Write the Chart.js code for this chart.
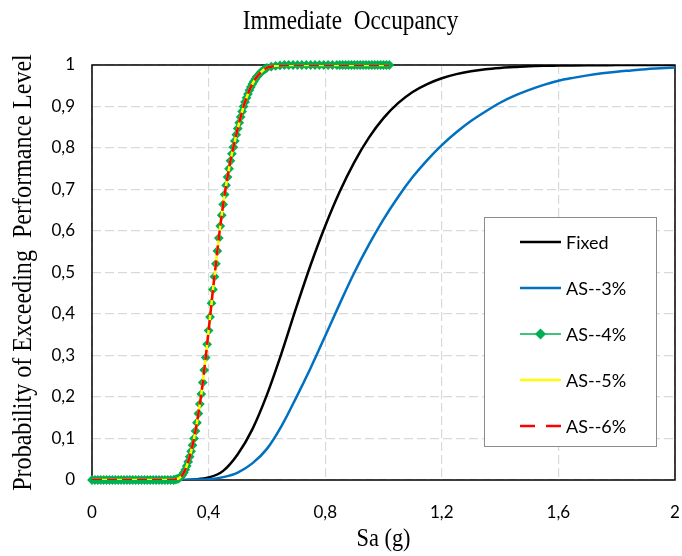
<!DOCTYPE html>
<html>
<head>
<meta charset="utf-8">
<script src="https://cdn.jsdelivr.net/npm/chart.js@4.4.1/dist/chart.umd.min.js"></script>
<style>
  html, body { margin: 0; padding: 0; background: #ffffff; }
  #wrap { width: 682px; height: 556px; }
</style>
</head>
<body>
<div id="wrap"><canvas id="chart" width="682" height="556"></canvas></div>
<script>
// Spectral acceleration grid (g) for the fixed-base and 3% curves
const saStd = [0,0.05,0.1,0.15,0.2,0.25,0.3,0.35,0.4,0.45,0.5,0.55,0.6,0.65,0.7,0.75,0.8,0.85,0.9,0.95,
  1,1.05,1.1,1.15,1.2,1.25,1.3,1.35,1.4,1.45,1.5,1.55,1.6,1.65,1.7,1.75,1.8,1.85,1.9,1.95,2];

const fixedProb = [0,0,0,0,0,0,0,0.0015,0.006,0.022,0.062,0.122,0.205,0.305,0.414,0.518,0.612,0.695,0.766,0.825,
  0.872,0.908,0.935,0.954,0.968,0.978,0.985,0.99,0.993,0.995,0.997,0.998,0.9985,0.999,0.9994,0.9996,0.9998,0.9999,1,1,1];

const as3Prob = [0,0,0,0,0,0,0,0.001,0.002,0.007,0.018,0.04,0.075,0.13,0.198,0.27,0.347,0.425,0.5,0.567,
  0.628,0.682,0.73,0.771,0.807,0.838,0.865,0.888,0.909,0.926,0.94,0.952,0.962,0.969,0.975,0.98,0.984,0.987,0.99,0.992,0.994];

// Sa grid (g) for the 4%, 5% and 6% curves
const saAS = [0,0.01,0.02,0.03,0.04,0.05,0.06,0.07,0.08,0.09,0.1,0.11,0.12,0.13,0.14,0.15,0.16,0.17,0.18,0.19,
  0.2,0.21,0.22,0.23,0.24,0.25,0.26,0.27,0.28,
  0.285,0.29,0.295,0.3,0.305,0.31,0.315,0.32,0.325,0.33,0.335,0.34,0.345,0.35,0.355,0.36,0.365,0.37,0.375,0.38,
  0.385,0.39,0.395,0.4,0.405,0.41,0.415,0.42,0.425,0.43,0.435,0.44,0.445,0.45,0.455,0.46,0.465,0.47,0.475,0.48,
  0.485,0.49,0.495,0.5,0.505,0.51,0.515,0.52,0.525,0.53,0.535,0.54,0.545,0.55,0.555,0.56,0.565,0.57,0.575,0.58,
  0.585,0.59,0.595,0.6,
  0.615,0.63,0.645,0.66,0.675,0.69,0.705,0.72,0.735,0.75,0.765,0.78,0.795,0.81,0.825,0.84,
  0.85,0.86,0.87,0.88,0.89,0.9,0.91,0.92,0.93,0.94,0.95,0.96,0.97,0.98,0.99,1,1.01,1.02];

const as4Prob = [0,0,0,0,0,0,0,0,0,0,0,0,0,0,0,0,0,0,0,0,0,0,0,0,0,0,0,0,0,
  0.001,0.002,0.003,0.005,0.008,0.012,0.018,0.025,0.034,0.044,0.056,0.069,0.084,0.1,0.118,0.138,0.16,0.183,0.207,0.235,
  0.265,0.295,0.327,0.36,0.393,0.426,0.459,0.49,0.521,0.552,0.583,0.612,0.638,0.664,0.688,0.71,0.73,0.75,0.769,0.786,
  0.802,0.817,0.832,0.847,0.861,0.875,0.888,0.9,0.911,0.921,0.93,0.939,0.947,0.954,0.96,0.966,0.971,0.975,0.979,0.983,
  0.986,0.989,0.991,0.993,
  0.996,0.998,0.999,1,1,1,1,1,1,1,1,1,1,1,1,1,
  1,1,1,1,1,1,1,1,1,1,1,1,1,1,1,1,1,1];

const as5Prob = [0,0,0,0,0,0,0,0,0,0,0,0,0,0,0,0,0,0,0,0,0,0,0,0,0,0,0,0,0,
  0.001,0.002,0.003,0.005,0.008,0.012,0.018,0.025,0.034,0.044,0.056,0.069,0.084,0.1,0.118,0.138,0.16,0.183,0.207,0.235,
  0.265,0.295,0.327,0.36,0.393,0.426,0.459,0.49,0.521,0.552,0.583,0.612,0.638,0.664,0.688,0.71,0.73,0.75,0.769,0.786,
  0.802,0.817,0.832,0.847,0.861,0.875,0.888,0.9,0.911,0.921,0.93,0.939,0.947,0.954,0.96,0.966,0.971,0.975,0.979,0.983,
  0.986,0.989,0.991,0.993,
  0.996,0.998,0.999,1,1,1,1,1,1,1,1,1,1,1,1,1,
  1,1,1,1,1,1,1,1,1,1,1,1,1,1,1,1,1,1];

const as6Prob = [0,0,0,0,0,0,0,0,0,0,0,0,0,0,0,0,0,0,0,0,0,0,0,0,0,0,0,0,0,
  0.001,0.002,0.003,0.005,0.008,0.012,0.018,0.025,0.034,0.044,0.056,0.069,0.084,0.1,0.118,0.138,0.16,0.183,0.207,0.235,
  0.265,0.295,0.327,0.36,0.393,0.426,0.459,0.49,0.521,0.552,0.583,0.612,0.638,0.664,0.688,0.71,0.73,0.75,0.769,0.786,
  0.802,0.817,0.832,0.847,0.861,0.875,0.888,0.9,0.911,0.921,0.93,0.939,0.947,0.954,0.96,0.966,0.971,0.975,0.979,0.983,
  0.986,0.989,0.991,0.993,
  0.996,0.998,0.999,1,1,1,1,1,1,1,1,1,1,1,1,1,
  1,1,1,1,1,1,1,1,1,1,1,1,1,1,1,1,1,1];

const saTicks = [0, 0.4, 0.8, 1.2, 1.6, 2];
const saTickLabels = ['0', '0,4', '0,8', '1,2', '1,6', '2'];
const probTicks = [0, 0.1, 0.2, 0.3, 0.4, 0.5, 0.6, 0.7, 0.8, 0.9, 1];
const probTickLabels = ['0', '0,1', '0,2', '0,3', '0,4', '0,5', '0,6', '0,7', '0,8', '0,9', '1'];

const seriesNames = ['Fixed', 'AS--3%', 'AS--4%', 'AS--5%', 'AS--6%'];
const chartTitle = 'Immediate  Occupancy';
const xTitle = 'Sa (g)';
const yTitle = 'Probability of Exceeding  Performance Level';

const pairs = (xs, ys) => xs.map((x, i) => ({ x: x, y: ys[i] }));

const tickFont = { family: 'Lato', size: 17 };
const serif = '"Liberation Serif"';

// Plot frame drawn below the curves
const framePlugin = {
  id: 'frame',
  beforeDatasetsDraw(chart) {
    const a = chart.chartArea, ctx = chart.ctx;
    ctx.save();
    ctx.strokeStyle = '#000000';
    ctx.lineWidth = 1.5;
    ctx.strokeRect(a.left, a.top, a.right - a.left, a.bottom - a.top);
    ctx.restore();
  }
};

// Narrow serif text for the heading and axis titles
function narrowText(ctx, text, x, y, size, squeeze, angle) {
  ctx.save();
  ctx.translate(x, y);
  ctx.rotate(angle);
  ctx.scale(squeeze, 1);
  ctx.fillStyle = '#000000';
  ctx.font = size + 'px ' + serif;
  ctx.textAlign = 'center';
  ctx.textBaseline = 'alphabetic';
  ctx.fillText(text, 0, 0);
  ctx.restore();
}

const titlesPlugin = {
  id: 'titles',
  afterDraw(chart) {
    const a = chart.chartArea, ctx = chart.ctx;
    narrowText(ctx, chartTitle, 350.5, 29, 28, 0.83, 0);
    narrowText(ctx, xTitle, (a.left + a.right) / 2, 546, 26, 0.86, 0);
    narrowText(ctx, yTitle, 31, (a.top + a.bottom) / 2, 28, 0.86, -Math.PI / 2);
  }
};

// Boxed legend inside the plot area
const boxLegendPlugin = {
  id: 'boxLegend',
  afterDraw(chart) {
    const a = chart.chartArea, ctx = chart.ctx;
    const bx = a.right - 191, by = a.top + 152, bw = 172, bh = 229;
    ctx.save();
    ctx.fillStyle = '#ffffff';
    ctx.fillRect(bx, by, bw, bh);
    ctx.strokeStyle = '#8c8c8c';
    ctx.lineWidth = 1;
    ctx.strokeRect(bx + 0.5, by + 0.5, bw, bh);
    const dsList = chart.data.datasets;
    const step = 46;
    dsList.forEach((ds, i) => {
      const y = by + 25 + i * step;
      const x0 = bx + 36, x1 = bx + 77;
      ctx.save();
      ctx.strokeStyle = ds.borderColor;
      ctx.lineWidth = ds.legendWidth || ds.borderWidth;
      ctx.setLineDash(ds.legendDash || []);
      ctx.beginPath();
      ctx.moveTo(x0, y);
      ctx.lineTo(x1, y);
      ctx.stroke();
      ctx.restore();
      if (ds.pointRadius > 0) {
        const r = 5.5, cx = (x0 + x1) / 2;
        ctx.fillStyle = ds.pointBackgroundColor;
        ctx.beginPath();
        ctx.moveTo(cx, y - r);
        ctx.lineTo(cx + r, y);
        ctx.lineTo(cx, y + r);
        ctx.lineTo(cx - r, y);
        ctx.closePath();
        ctx.fill();
      }
      ctx.fillStyle = '#000000';
      ctx.font = '18px Lato';
      ctx.textAlign = 'left';
      ctx.textBaseline = 'middle';
      ctx.fillText(ds.label, x1 + 5, y + 1);
    });
    ctx.restore();
  }
};

const lineBase = { showLine: true, pointRadius: 0, cubicInterpolationMode: 'monotone', fill: false };

const chart = new Chart(document.getElementById('chart'), {
  type: 'scatter',
  data: {
    datasets: [
      Object.assign({}, lineBase, {
        label: seriesNames[0], data: pairs(saStd, fixedProb),
        borderColor: '#000000', borderWidth: 2.5, order: 5
      }),
      Object.assign({}, lineBase, {
        label: seriesNames[1], data: pairs(saStd, as3Prob),
        borderColor: '#0070c0', borderWidth: 2.5, order: 4
      }),
      Object.assign({}, lineBase, {
        label: seriesNames[2], data: pairs(saAS, as4Prob),
        borderColor: '#00b050', borderWidth: 1.5, legendWidth: 1.5,
        pointRadius: 4.9, pointStyle: 'rectRot', pointBackgroundColor: '#00b050',
        pointBorderColor: '#00b050', pointBorderWidth: 0, clip: false, order: 3
      }),
      Object.assign({}, lineBase, {
        label: seriesNames[3], data: pairs(saAS, as5Prob),
        borderColor: '#ffff00', borderWidth: 2.5, order: 2
      }),
      Object.assign({}, lineBase, {
        label: seriesNames[4], data: pairs(saAS, as6Prob),
        borderColor: '#ff0000', borderWidth: 2.5, borderDash: [10, 5],
        legendDash: [15, 11], order: 1
      })
    ]
  },
  options: {
    responsive: false,
    animation: false,
    devicePixelRatio: 1,
    events: [],
    layout: { padding: { top: 65, right: 7, bottom: 0, left: 0 } },
    plugins: {
      legend: { display: false },
      title: { display: false },
      tooltip: { enabled: false }
    },
    scales: {
      x: {
        type: 'linear', min: 0, max: 2,
        afterBuildTicks: s => { s.ticks = saTicks.map(v => ({ value: v })); },
        afterFit: s => { s.height = 76; s.paddingLeft = 0; s.paddingRight = 0; },
        ticks: {
          autoSkip: false, maxRotation: 0, padding: 22, color: '#000000', font: tickFont,
          callback: (v, i) => saTickLabels[i]
        },
        grid: { color: '#d9d9d9', lineWidth: 1.2, drawTicks: false },
        border: { display: false, dash: [9, 4] },
        title: { display: false }
      },
      y: {
        type: 'linear', min: 0, max: 1,
        afterBuildTicks: s => { s.ticks = probTicks.map(v => ({ value: v })); },
        afterFit: s => { s.width = 92; s.paddingTop = 0; s.paddingBottom = 0; },
        ticks: {
          autoSkip: false, padding: 17, color: '#000000', font: tickFont,
          callback: (v, i) => probTickLabels[i]
        },
        grid: { color: '#d9d9d9', lineWidth: 1.2, drawTicks: false },
        border: { display: false, dash: [9, 4] },
        title: { display: false }
      }
    }
  },
  plugins: [framePlugin, titlesPlugin, boxLegendPlugin]
});
</script>
</body>
</html>
